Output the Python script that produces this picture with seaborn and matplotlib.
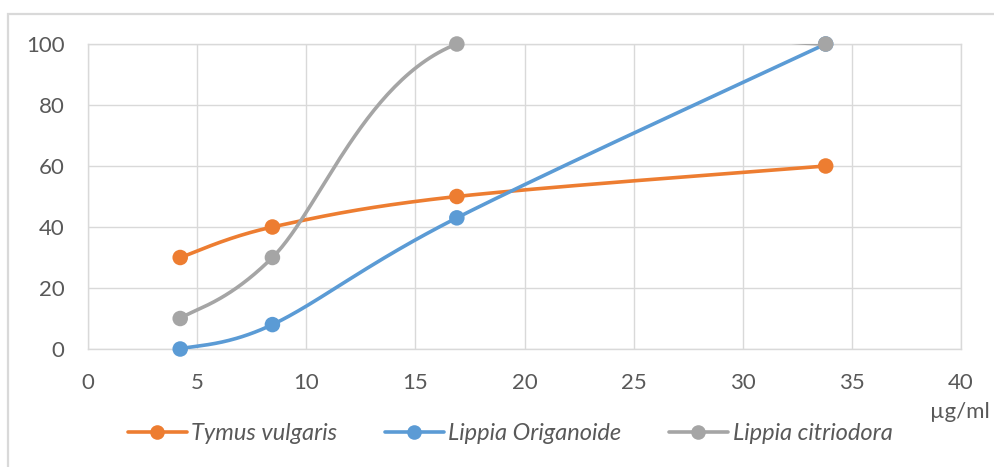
import matplotlib
matplotlib.use("Agg")
import matplotlib.pyplot as plt
from matplotlib.lines import Line2D
from matplotlib.patches import Rectangle
import numpy as np
import pandas as pd
import seaborn as sns

# concentration (µg/ml) and response for each extract
concentrations = [4.225, 8.45, 16.9, 33.8]
tymus_vulgaris = [30, 40, 50, 60]
lippia_origanoide = [0, 8, 43, 100]
lippia_citriodora = [10, 30, 100, 100]

series_names = ["Tymus vulgaris", "Lippia Origanoide", "Lippia citriodora"]
series_values = [tymus_vulgaris, lippia_origanoide, lippia_citriodora]
colors = ["#ED7D31", "#5B9BD5", "#A5A5A5"]

x_ticks = [0, 5, 10, 15, 20, 25, 30, 35, 40]
y_ticks = [0, 20, 40, 60, 80, 100]


def smooth_path(xs, ys, steps=60):
    """Excel-like smoothed line: cubic Bezier through each point."""
    pts = np.column_stack([xs, ys]).astype(float)
    n = len(pts)
    out = []
    for i in range(n - 1):
        p0 = pts[max(i - 1, 0)]
        p1 = pts[i]
        p2 = pts[i + 1]
        p3 = pts[min(i + 2, n - 1)]
        c1 = p1 + (p2 - p0) / 6.0
        c2 = p2 - (p3 - p1) / 6.0
        t = np.linspace(0, 1, steps)[:, None]
        seg = ((1 - t) ** 3) * p1 + 3 * ((1 - t) ** 2) * t * c1 \
            + 3 * (1 - t) * t ** 2 * c2 + t ** 3 * p2
        out.append(seg if i == 0 else seg[1:])
    return np.vstack(out)


sns.set_theme(style="white")
plt.rcParams["font.family"] = ["Lato", "DejaVu Sans"]

fig = plt.figure(figsize=(9.94, 4.67), dpi=100)
ax = fig.add_axes([88 / 994, 1 - 349 / 467, (961 - 88) / 994, (349 - 44) / 467])

# chart frame (only top and left edges are inside the crop)
fig.patches.append(Rectangle((8 / 994, -0.1), 1.2, 1.1 - 14 / 467,
                             transform=fig.transFigure, fill=False,
                             edgecolor="#D9D9D9", lw=1.6, zorder=0))

for k, (name, vals, col) in enumerate(zip(series_names, series_values, colors)):
    curve = smooth_path(concentrations, vals)
    df = pd.DataFrame({"x": curve[:, 0], "y": curve[:, 1]})
    sns.lineplot(data=df, x="x", y="y", sort=False, estimator=None,
                 color=col, lw=2.6, ax=ax, zorder=3 + k)
    pts = pd.DataFrame({"x": concentrations, "y": vals})
    sns.scatterplot(data=pts, x="x", y="y", color=col, s=125,
                    edgecolor="none", ax=ax, zorder=3 + k, clip_on=False)

ax.set_xlim(0, 40)
ax.set_ylim(0, 100)
ax.set_xticks(x_ticks)
ax.set_yticks(y_ticks)
ax.grid(True, color="#D9D9D9", lw=1)
for s in ax.spines.values():
    s.set_color("#D9D9D9")
    s.set_linewidth(1)
ax.tick_params(length=0, labelsize=16, labelcolor="#595959")
ax.tick_params(axis="y", pad=17)
ax.tick_params(axis="x", pad=17)
ax.set_xlabel("")
ax.set_ylabel("")

fig.text(930 / 994, 1 - 412 / 467, "µg/ml", fontsize=16, color="#595959",
         ha="left", va="center")

handles = [Line2D([0], [0], color=c, lw=2.6, marker="o", markersize=10.5,
                  markeredgewidth=0) for c in colors]
leg = fig.legend(handles, series_names, loc="center", ncol=3,
                 bbox_to_anchor=(510 / 994, 1 - 434 / 467), frameon=False,
                 prop={"size": 17, "style": "italic"}, handlelength=2.5,
                 handletextpad=0.2, columnspacing=2.0)
for t in leg.get_texts():
    t.set_color("#595959")

fig.savefig("out.png", dpi=100)
